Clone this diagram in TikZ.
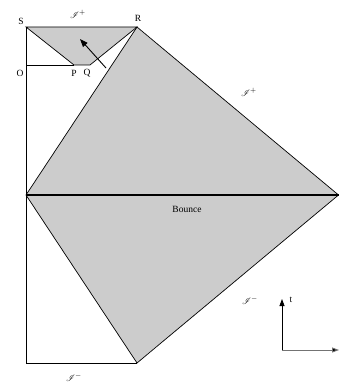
\documentclass[tikz,border=0pt]{standalone}
\usepackage{fontspec}
\setmainfont{Liberation Serif}
\usepackage{mathrsfs}
\usetikzlibrary{arrows.meta}
\definecolor{regiongray}{HTML}{CCCCCC}
\tikzset{
  edge/.style={line width=0.7pt, black},
  lbl/.style={font=\fontsize{9.5}{10}\selectfont, inner sep=0pt},
  axis/.style={line width=0.8pt, -{Triangle[length=7pt,width=5pt]}}
}
\begin{document}
\begin{tikzpicture}[x=1pt,y=-1pt]
\useasboundingbox (0,0) rectangle (339,385);
\coordinate (S) at (26,27);
\coordinate (R) at (137,27);
\coordinate (O) at (26,65);
\coordinate (P) at (74,65);
\coordinate (Q) at (90,65);
\coordinate (L) at (26,195);
\coordinate (E) at (338.5,195);
\coordinate (B) at (137,363);
\coordinate (BL) at (26,363);
\coordinate (A1) at (106,68);
\coordinate (A2) at (80,39);
\coordinate (X0) at (282,350);
\coordinate (Xt) at (282,299);
\coordinate (Xr) at (339,350);
% shaded regions
\fill[regiongray] (S) -- (R) -- (Q) -- (P) -- cycle;
\fill[regiongray] (R) -- (E) -- (B) -- (L) -- cycle;
% outlines
\draw[edge] (S) -- (R) -- (Q) -- (P) -- cycle;
\draw[edge] (P) -- (O);
\draw[edge] (S) -- (BL) -- (B);
\draw[edge] (R) -- (E) -- (B) -- (L) -- cycle;
\draw[line width=1.3pt] (L) -- (E);
% arrow
\draw[line width=0.9pt, -{Triangle[length=8pt,width=6pt]}] (A1) -- (A2);
% axes
\draw[axis, black] (X0) -- (Xt);
\draw[line width=0.9pt, gray!90!black, -{Triangle[length=7pt,width=5pt,fill=black]}] (X0) -- (Xr);
% labels
\node[lbl] (lS) at (21,21) {S};
\node[lbl] (lR) at (138,18) {R};
\node[lbl] (lO) at (20,73) {O};
\node[lbl] (lP) at (74,73) {P};
\node[lbl] (lQ) at (87,73) {Q};
\node[lbl] (lJ1) at (78,14) {$\mathscr{I}^+$};
\node[lbl] (lJ2) at (249,92) {$\mathscr{I}^+$};
\node[lbl] (lJ3) at (250,300) {$\mathscr{I}^-$};
\node[lbl] (lJ4) at (74,377) {$\mathscr{I}^-$};
\node[lbl] (lB) at (187,209) {Bounce};
\node[lbl] (lt) at (291,300) {t};
\end{tikzpicture}
\end{document}
